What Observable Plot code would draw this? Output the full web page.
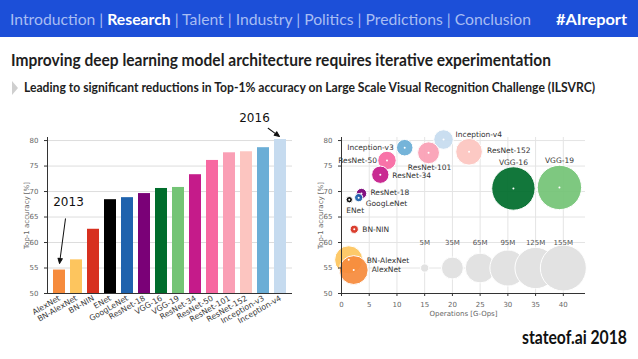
<!DOCTYPE html>
<html>
<head>
<meta charset="utf-8">
<script src="https://cdn.jsdelivr.net/npm/d3@7"></script>
<script src="https://cdn.jsdelivr.net/npm/@observablehq/plot@0.6"></script>
<style>
html,body{margin:0;padding:0;background:#fff;}
#page{position:relative;width:638px;height:359px;overflow:hidden;background:#fff;font-family:Lato,"Open Sans",sans-serif;}
#topbar{position:absolute;left:0;top:0;width:638px;height:37px;background:#1c4fd8;}
.t{position:absolute;white-space:nowrap;transform-origin:0 0;line-height:1;}
#nav{left:10px;top:11px;font-size:16px;color:#a8bdf3;}
#nav b{color:#fff;}
#tag{left:556px;top:11px;font-size:16px;color:#fff;font-weight:bold;}
#title{left:11px;top:51px;font-size:17px;font-weight:bold;color:#1e1e1e;}
#subtitle{left:24px;top:82px;font-size:12.5px;font-weight:bold;color:#1e1e1e;}
#tri{position:absolute;left:12px;top:81px;width:0;height:0;border-top:7px solid transparent;border-bottom:7px solid transparent;border-left:6px solid #cfcfcf;}
#brand{left:522px;top:328px;font-size:18px;font-weight:bold;color:#111;}
#left{position:absolute;left:0;top:105px;}
#right{position:absolute;left:300px;top:105px;}
</style>
</head>
<body>
<div id="page">
  <div id="topbar"></div>
  <div id="nav" class="t">Introduction | <b>Research</b> | Talent | Industry | Politics | Predictions | Conclusion</div>
  <div id="tag" class="t">#AIreport</div>
  <div id="title" class="t">Improving deep learning model architecture requires iterative experimentation</div>
  <div id="tri"></div>
  <div id="subtitle" class="t">Leading to significant reductions in Top-1% accuracy on Large Scale Visual Recognition Challenge (ILSVRC)</div>
  <div id="left"></div>
  <div id="right"></div>
  <div id="brand" class="t">stateof.ai 2018</div>
</div>
<script>
// ---- data ----
const models = ["AlexNet","BN-AlexNet","BN-NIN","ENet","GoogLeNet","ResNet-18","VGG-16","VGG-19","ResNet-34","ResNet-50","ResNet-101","ResNet-152","Inception-v3","Inception-v4"];
const top1 = [54.6,56.6,62.6,68.4,68.8,69.6,70.6,70.8,73.3,76.1,77.6,77.8,78.6,80.2];
const gops = [2.2,1.3,2.3,1.4,3.1,3.6,31.0,39.3,7.0,8.2,15.7,23.0,11.4,18.4];
const paramsM = [61,58,5,3,5,8,138,144,22,25,35,52,20,28];
const colors = ["#f68b3c","#fdc55e","#d7301f","#000000","#1f62ad","#7a0177","#006d2c","#74c476","#c51b8a","#f768a1","#fa9fb5","#fcc5c0","#6baed6","#c6dbef"];
const legendParams = [5,35,65,95,125,155];
const legendGops = [15,20,25,30,35,40];
const legendLabels = ["5M","35M","65M","95M","125M","155M"];
const legendAcc = 55, legendLabelAcc = 60;
const yTicks = [50,55,60,65,70,75,80];
const xTicks = [0,5,10,15,20,25,30,35,40];
const yDomain = [50, 80.6];
const xDomain = [0, 44];
const ann2013 = [{text:"2013", model:"AlexNet", textAcc:68.0, tipAcc:55.9}];
const ann2016 = [{text:"2016", model:"Inception-v4", textAcc:84.3, tipAcc:80.8}];

const table = models.map((m,i)=>({model:m, acc:top1[i], gops:gops[i], params:paramsM[i]}));
const legend = legendParams.map((p,i)=>({params:p, gops:legendGops[i], label:legendLabels[i]}));

// label placement: [anchor, dx, dy]
const labelPlacement = {
  "Inception-v3":["end",-11,0], "ResNet-50":["end",-10,0], "ResNet-34":["start",12,1],
  "ResNet-18":["start",9,-1], "GoogLeNet":["start",7,6], "ENet":["start",-3,11],
  "BN-NIN":["start",8,0], "BN-AlexNet":["start",18,1], "AlexNet":["start",18,0],
  "ResNet-101":["middle",1,15], "Inception-v4":["start",12,-5], "ResNet-152":["start",18,-1],
  "VGG-16":["middle",0,-26], "VGG-19":["middle",0,-27]
};

const arrowShape = {
  draw(context, l) {
    const h = 5, w = 2.2;
    context.moveTo(0, 0);
    context.lineTo(0, -l + h);
    context.moveTo(0, -l);
    context.lineTo(-w, -l + h);
    context.lineTo(w, -l + h);
    context.closePath();
  }
};

const axisStyle = {fontFamily:"DejaVu Sans", fontSize:"7px", color:"#555", background:"transparent", overflow:"visible"};

const left = Plot.plot({
  width: 310, height: 240, marginLeft: 47, marginRight: 18, marginTop: 32, marginBottom: 52,
  style: axisStyle,
  x: {domain: models, paddingInner: 0.28, paddingOuter: 0.24},
  y: {domain: yDomain},
  color: {domain: models, range: colors},
  marks: [
    Plot.gridY(yTicks, {stroke:"#ddd", strokeOpacity:1}),
    Plot.barY(table, {x:"model", y:"acc", fill:"model", clip:true}),
    Plot.axisY(yTicks, {tickSize:3, fill:"#666", stroke:"#333", label:"Top-1 accuracy [%]", labelAnchor:"center", labelOffset:23, labelArrow:"none"}),
    Plot.axisX({tickRotate:-30, tickSize:0, tickPadding:4, fill:"#3a3a3a", fontSize:7.8, label:null}),
    Plot.ruleY([yDomain[0]], {stroke:"#333"}),
    Plot.frame({anchor:"left", stroke:"#333"}),
    Plot.text(ann2013, {x:"model", y:"textAcc", text:"text", dx:9, fontSize:12, fill:"#111"}),
    Plot.text(ann2016, {x:"model", y:"textAcc", text:"text", dx:-26, fontSize:12, fill:"#111"}),
    Plot.vector(ann2013, {x:"model", y:"tipAcc", length:45, rotate:187.6, anchor:"end", shape:arrowShape, stroke:"#111", fill:"#111", strokeWidth:1}),
    Plot.vector(ann2016, {x:"model", y:"tipAcc", length:14, rotate:126, anchor:"end", shape:arrowShape, stroke:"#111", fill:"#111", strokeWidth:1, dx:-1})
  ]
});
document.getElementById("left").appendChild(left);

const rev = table.slice().reverse();
const right = Plot.plot({
  width: 338, height: 240, marginLeft: 41, marginRight: 53, marginTop: 32, marginBottom: 52,
  style: axisStyle,
  x: {domain: xDomain},
  y: {domain: yDomain},
  r: {type:"sqrt", domain:[0,155], range:[0,23]},
  color: {domain: models, range: colors},
  marks: [
    Plot.gridX(xTicks, {stroke:"#e4e4e4", strokeOpacity:1}),
    Plot.gridY(yTicks, {stroke:"#e4e4e4", strokeOpacity:1}),
    Plot.dot(legend, {x:"gops", y:() => legendAcc, r:"params", fill:"#e2e2e2", stroke:"white", strokeWidth:1, sort:null}),
    Plot.text(legend, {x:"gops", y:() => legendLabelAcc, text:"label", fontSize:7, fill:"#555"}),
    Plot.dot(rev, {x:"gops", y:"acc", r:"params", fill:"model", fillOpacity:0.93, stroke:"white", strokeWidth:1, sort:null}),
    Plot.dot(table, {x:"gops", y:"acc", r:1, fill:"white", stroke:null}),
    ...models.map(m => {
      const p = labelPlacement[m];
      return Plot.text(table.filter(d => d.model === m), {x:"gops", y:"acc", text:"model", textAnchor:p[0], dx:p[1], dy:p[2], fontSize:7.5, fill:"#333"});
    }),
    Plot.axisY(yTicks, {tickSize:3, fill:"#666", stroke:"#333", label:"Top-1 accuracy [%]", labelAnchor:"center", labelOffset:23, labelArrow:"none"}),
    Plot.axisX(xTicks, {tickSize:3, fill:"#666", stroke:"#333", label:"Operations [G-Ops]", labelAnchor:"center", labelOffset:22, labelArrow:"none"}),
    Plot.ruleY([yDomain[0]], {stroke:"#333"}),
    Plot.ruleX([xDomain[0]], {stroke:"#333"})
  ]
});
document.getElementById("right").appendChild(right);

// fit header texts to their widths in the reference
function fit(id, w) {
  const el = document.getElementById(id);
  const r = el.getBoundingClientRect().width;
  el.style.transform = `scaleX(${w / r})`;
}
fit("nav", 521);
fit("tag", 71);
fit("title", 540);
fit("subtitle", 571);
fit("brand", 105);
</script>
</body>
</html>
